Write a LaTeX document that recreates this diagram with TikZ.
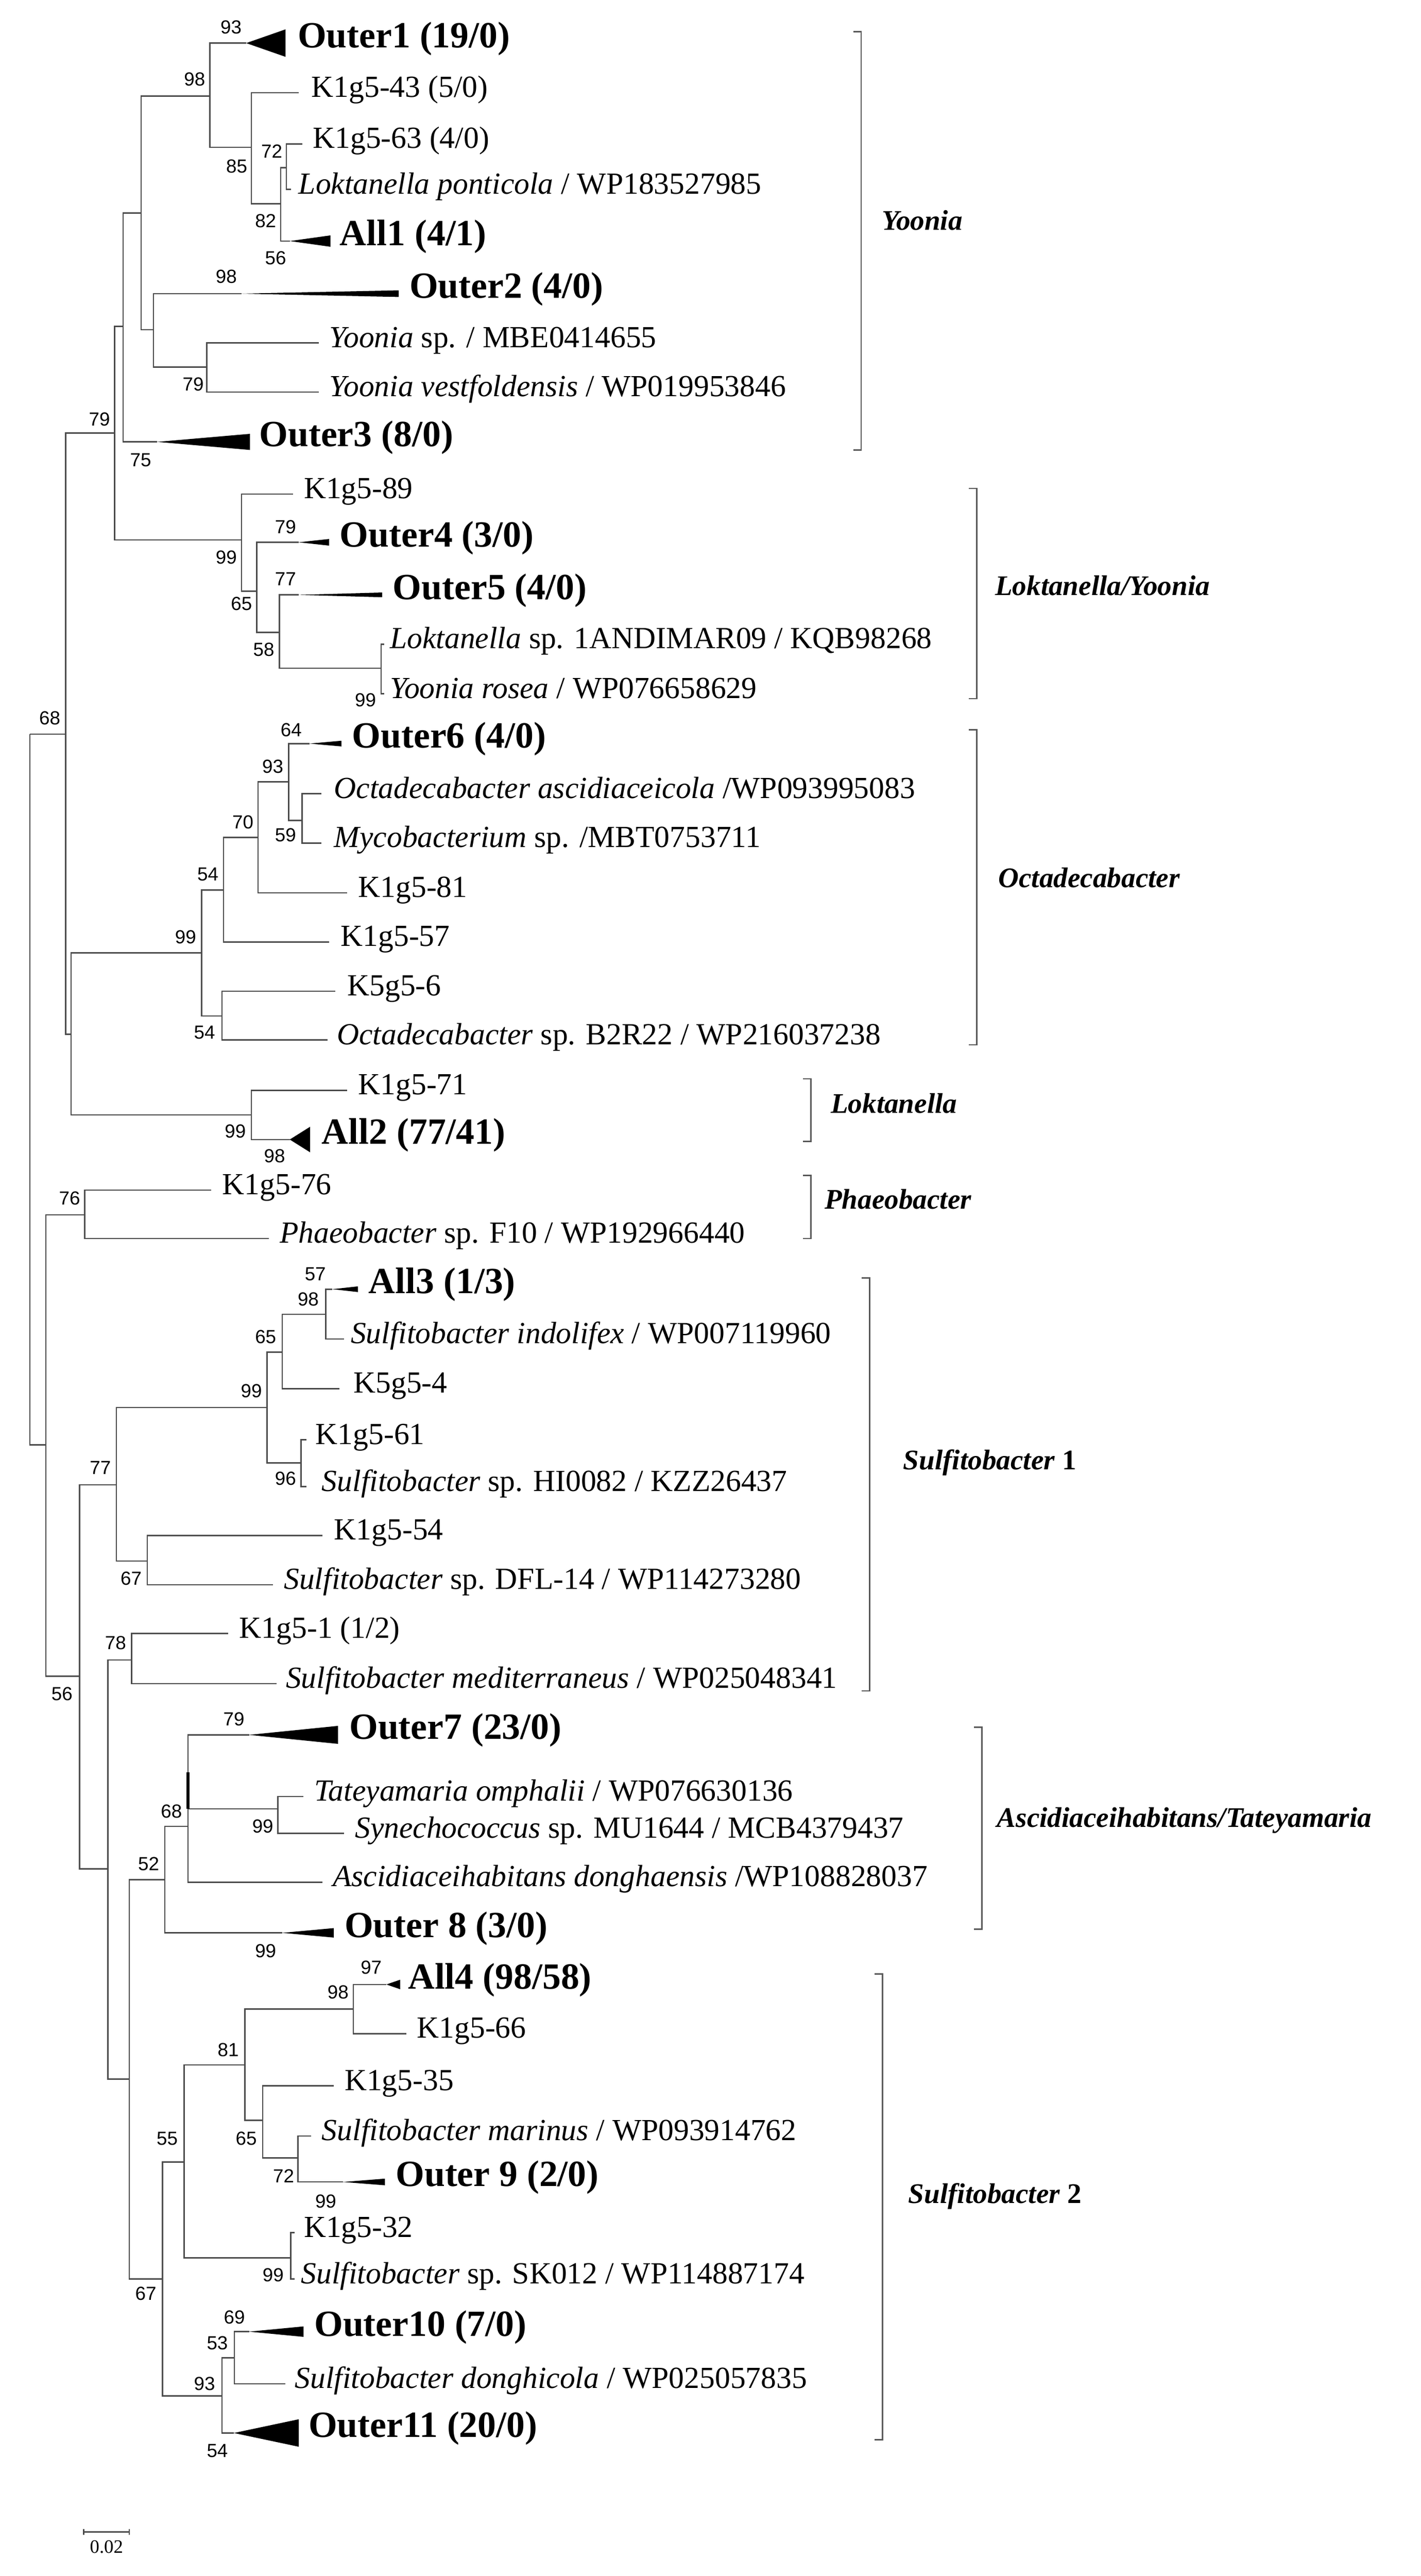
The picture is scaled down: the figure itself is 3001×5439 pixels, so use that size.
\documentclass[tikz,border=0pt]{standalone}
\usepackage{fontspec}
\setmainfont{Liberation Serif}
\newfontfamily\bsfamily{Liberation Sans}
\newcommand\ed[2]{\draw[edge] (#1) |- (#2);}
\newcommand\tri[5]{\coordinate (#1) at (#2,#4); \fill[tri] (#1) -- (#3,#4-#5) -- (#3,#4+#5) -- cycle;}
\newcommand\brk[5]{\coordinate (#1t) at (#2,#3); \coordinate (#1b) at (#2,#4);
  \draw[brack] ([xshift=-4.2pt]#1t) -- (#1t) -- (#1b) -- ([xshift=-4.2pt]#1b);}
\begin{document}
\begin{tikzpicture}[x=0.25pt,y=-0.25pt,
  edge/.style={draw=black!70,line width=0.7pt},
  tri/.style={fill=black},
  brack/.style={draw=black!65,line width=0.7pt},
  leaf/.style={anchor=mid west,inner sep=0pt,font=\fontsize{16.2}{19}\selectfont},
  bold/.style={anchor=mid west,inner sep=0pt,font=\fontsize{19.5}{22}\selectfont\bfseries},
  bs/.style={inner sep=0pt,font=\fontsize{10}{12}\bsfamily},
  cl/.style={anchor=mid west,inner sep=0pt,font=\fontsize{15}{18}\selectfont\bfseries\itshape}]
\useasboundingbox (0,0) rectangle (3001,5439);
% internal nodes
\coordinate (R0) at (63,1550);
\coordinate (B) at (139,1550);
\coordinate (A) at (242,914);
\coordinate (Y) at (260,689);
\coordinate (Y1) at (298,450);
\coordinate (Y1a) at (443,203);
\coordinate (Y1b) at (531,311);
\coordinate (Y1c) at (593,430);
\coordinate (Y1d) at (605,354);
\coordinate (Y2) at (324,696);
\coordinate (Y2b) at (437,775);
\coordinate (LY) at (510,1140);
\coordinate (LY2) at (542,1248);
\coordinate (LY4) at (590,1335);
\coordinate (LY5) at (805,1411);
\coordinate (D) at (150,2184);
\coordinate (O) at (426,2012);
\coordinate (O1) at (472,1879);
\coordinate (O3) at (545,1768);
\coordinate (O4) at (610,1651);
\coordinate (O5) at (638,1732);
\coordinate (O2) at (469,2145);
\coordinate (L) at (531,2354);
\coordinate (R1) at (97,3051);
\coordinate (Ph) at (179,2565);
\coordinate (R2) at (168,3539);
\coordinate (S1) at (246,3135);
\coordinate (S1a) at (564,2972);
\coordinate (S1b) at (596,2855);
\coordinate (S1c) at (688,2775);
\coordinate (S1d) at (636,3089);
\coordinate (S1e) at (311,3296);
\coordinate (R3) at (228,3946);
\coordinate (S2) at (278,3505);
\coordinate (N52) at (273,4390);
\coordinate (N52b) at (348,3969);
\coordinate (N68) at (397,3856);
\coordinate (TS) at (587,3819);
\coordinate (N67) at (343,4812);
\coordinate (N55) at (389,4565);
\coordinate (N81) at (517,4360);
\coordinate (N98) at (746,4242);
\coordinate (N65) at (555,4477);
\coordinate (N72) at (629,4556);
\coordinate (N99) at (614,4767);
\coordinate (N93) at (469,5059);
\coordinate (N53) at (495,4978);
% leaves (line ends)
\coordinate (l43) at (631,196);
\coordinate (l63) at (638,304);
\coordinate (lpon) at (615,400);
\coordinate (lysp) at (673,724);
\coordinate (lyve) at (673,828);
\coordinate (l89) at (619,1043);
\coordinate (llsp) at (812,1360);
\coordinate (lyro) at (812,1465);
\coordinate (loca) at (679,1676);
\coordinate (lmyc) at (679,1780);
\coordinate (l81) at (733,1885);
\coordinate (l57) at (695,1989);
\coordinate (l56) at (708,2093);
\coordinate (lb2r) at (692,2196);
\coordinate (l71) at (733,2302);
\coordinate (l76) at (446,2513);
\coordinate (lpha) at (568,2615);
\coordinate (lind) at (727,2827);
\coordinate (l54b) at (717,2932);
\coordinate (l61) at (647,3040);
\coordinate (lhi) at (647,3139);
\coordinate (l54) at (681,3242);
\coordinate (ldfl) at (577,3346);
\coordinate (l1) at (482,3449);
\coordinate (lmed) at (584,3555);
\coordinate (ltat) at (641,3793);
\coordinate (lsyn) at (727,3871);
\coordinate (lasc) at (681,3974);
\coordinate (l66) at (858,4294);
\coordinate (l35) at (705,4404);
\coordinate (lmar) at (657,4510);
\coordinate (l32) at (622,4714);
\coordinate (lsk) at (622,4812);
\coordinate (ldon) at (603,5033);
% collapsed clades
\tri{o1}{520}{603}{91}{29}
\tri{a1}{612}{698}{509}{12}
\tri{o2}{510}{842}{620}{7}
\tri{o3}{332}{528}{933}{17}
\tri{o4}{631}{695}{1145}{7}
\tri{o5}{631}{807}{1256}{5}
\tri{o6}{654}{721}{1570}{6}
\tri{a2}{612}{655}{2406}{27}
\tri{a3}{702}{756}{2722}{6}
\tri{o7}{526}{714}{3663}{19}
\tri{o8}{596}{705}{4081}{10}
\tri{a4}{816}{845}{4190}{10}
\tri{o9}{724}{813}{4607}{7}
\tri{o10}{526}{641}{4923}{11}
\tri{o11}{494}{631}{5137}{29}
% edges
\ed{R0}{B}\ed{R0}{R1}
\ed{B}{A}\ed{B}{D}
\ed{A}{Y}\ed{A}{LY}
\ed{Y}{Y1}\ed{Y}{o3}
\ed{Y1}{Y1a}\ed{Y1}{Y2}
\ed{Y1a}{o1}\ed{Y1a}{Y1b}
\ed{Y1b}{l43}\ed{Y1b}{Y1c}
\ed{Y1c}{Y1d}\ed{Y1c}{a1}
\ed{Y1d}{l63}\ed{Y1d}{lpon}
\ed{Y2}{o2}\ed{Y2}{Y2b}
\ed{Y2b}{lysp}\ed{Y2b}{lyve}
\ed{LY}{l89}\ed{LY}{LY2}
\ed{LY2}{o4}\ed{LY2}{LY4}
\ed{LY4}{o5}\ed{LY4}{LY5}
\ed{LY5}{llsp}\ed{LY5}{lyro}
\ed{D}{O}\ed{D}{L}
\ed{O}{O1}\ed{O}{O2}
\ed{O1}{O3}\ed{O1}{l57}
\ed{O3}{O4}\ed{O3}{l81}
\ed{O4}{o6}\ed{O4}{O5}
\ed{O5}{loca}\ed{O5}{lmyc}
\ed{O2}{l56}\ed{O2}{lb2r}
\ed{L}{l71}\ed{L}{a2}
\ed{R1}{Ph}\ed{R1}{R2}
\ed{Ph}{l76}\ed{Ph}{lpha}
\ed{R2}{S1}\ed{R2}{R3}
\ed{S1}{S1a}\ed{S1}{S1e}
\ed{S1a}{S1b}\ed{S1a}{S1d}
\ed{S1b}{S1c}\ed{S1b}{l54b}
\ed{S1c}{a3}\ed{S1c}{lind}
\ed{S1d}{l61}\ed{S1d}{lhi}
\ed{S1e}{l54}\ed{S1e}{ldfl}
\ed{R3}{S2}\ed{R3}{N52}
\ed{S2}{l1}\ed{S2}{lmed}
\ed{N52}{N52b}\ed{N52}{N67}
\ed{N52b}{N68}\ed{N52b}{o8}
\ed{N68}{o7}\ed{N68}{TS}\ed{N68}{lasc}
\ed{TS}{ltat}\ed{TS}{lsyn}
\ed{N67}{N55}\ed{N67}{N93}
\ed{N55}{N81}\ed{N55}{N99}
\ed{N81}{N98}\ed{N81}{N65}
\ed{N98}{a4}\ed{N98}{l66}
\ed{N65}{l35}\ed{N65}{N72}
\ed{N72}{lmar}\ed{N72}{o9}
\ed{N99}{l32}\ed{N99}{lsk}
\ed{N93}{N53}\ed{N93}{o11}
\ed{N53}{o10}\ed{N53}{ldon}
\coordinate (thk1) at (397,3742);
\coordinate (thk2) at (397,3819);
\draw[line width=1.8pt] (thk1) -- (thk2);
% labels
\node[bold] (t1) at (628,91) {Outer1 (19/0)};
\node[leaf] (t2) at (657,196) {K1g5-43 (5/0)};
\node[leaf] (t3) at (660,304) {K1g5-63 (4/0)};
\node[leaf] (t4) at (630,400) {\textit{Loktanella ponticola} / WP183527985};
\node[bold] (t5) at (717,509) {All1 (4/1)};
\node[bold] (t6) at (864,620) {Outer2 (4/0)};
\node[leaf] (t7) at (695,724) {\textit{Yoonia} sp. / MBE0414655};
\node[leaf] (t8) at (695,828) {\textit{Yoonia vestfoldensis} / WP019953846};
\node[bold] (t9) at (547,933) {Outer3 (8/0)};
\node[leaf] (t10) at (641,1043) {K1g5-89};
\node[bold] (t11) at (717,1145) {Outer4 (3/0)};
\node[bold] (t12) at (829,1256) {Outer5 (4/0)};
\node[leaf] (t13) at (823,1360) {\textit{Loktanella} sp. 1ANDIMAR09 / KQB98268};
\node[leaf] (t14) at (823,1465) {\textit{Yoonia rosea} / WP076658629};
\node[bold] (t15) at (743,1570) {Outer6 (4/0)};
\node[leaf] (t16) at (705,1676) {\textit{Octadecabacter ascidiaceicola} /WP093995083};
\node[leaf] (t17) at (705,1780) {\textit{Mycobacterium} sp. /MBT0753711};
\node[leaf] (t18) at (756,1885) {K1g5-81};
\node[leaf] (t19) at (719,1989) {K1g5-57};
\node[leaf] (t20) at (733,2093) {K5g5-6};
\node[leaf] (t21) at (711,2196) {\textit{Octadecabacter} sp. B2R22 / WP216037238};
\node[leaf] (t22) at (756,2302) {K1g5-71};
\node[bold] (t23) at (679,2406) {All2 (77/41)};
\node[leaf] (t24) at (469,2513) {K1g5-76};
\node[leaf] (t25) at (590,2615) {\textit{Phaeobacter} sp. F10 / WP192966440};
\node[bold] (t26) at (778,2722) {All3 (1/3)};
\node[leaf] (t27) at (740,2827) {\textit{Sulfitobacter indolifex} / WP007119960};
\node[leaf] (t28) at (746,2932) {K5g5-4};
\node[leaf] (t29) at (666,3040) {K1g5-61};
\node[leaf] (t30) at (679,3139) {\textit{Sulfitobacter} sp. HI0082 / KZZ26437};
\node[leaf] (t31) at (705,3242) {K1g5-54};
\node[leaf] (t32) at (599,3346) {\textit{Sulfitobacter} sp. DFL-14 / WP114273280};
\node[leaf] (t33) at (504,3449) {K1g5-1 (1/2)};
\node[leaf] (t34) at (603,3555) {\textit{Sulfitobacter mediterraneus} / WP025048341};
\node[bold] (t35) at (737,3663) {Outer7 (23/0)};
\node[leaf] (t36) at (663,3793) {\textit{Tateyamaria omphalii} / WP076630136};
\node[leaf] (t37) at (749,3871) {\textit{Synechococcus} sp. MU1644 / MCB4379437};
\node[leaf] (t38) at (702,3974) {\textit{Ascidiaceihabitans donghaensis} /WP108828037};
\node[bold] (t39) at (727,4081) {Outer 8 (3/0)};
\node[bold] (t40) at (861,4190) {All4 (98/58)};
\node[leaf] (t41) at (880,4294) {K1g5-66};
\node[leaf] (t42) at (727,4404) {K1g5-35};
\node[leaf] (t43) at (679,4510) {\textit{Sulfitobacter marinus} / WP093914762};
\node[bold] (t44) at (835,4607) {Outer 9 (2/0)};
\node[leaf] (t45) at (641,4714) {K1g5-32};
\node[leaf] (t46) at (635,4812) {\textit{Sulfitobacter} sp. SK012 / WP114887174};
\node[bold] (t47) at (663,4923) {Outer10 (7/0)};
\node[leaf] (t48) at (622,5033) {\textit{Sulfitobacter donghicola} / WP025057835};
\node[bold] (t49) at (651,5137) {Outer11 (20/0)};
% bootstrap values
\node[bs] (b1) at (488,57) {93};
\node[bs] (b2) at (411,167) {98};
\node[bs] (b3) at (500,351) {85};
\node[bs] (b4) at (574,319) {72};
\node[bs] (b5) at (561,466) {82};
\node[bs] (b6) at (582,545) {56};
\node[bs] (b7) at (478,584) {98};
\node[bs] (b8) at (408,811) {79};
\node[bs] (b9) at (210,885) {79};
\node[bs] (b10) at (297,971) {75};
\node[bs] (b11) at (478,1177) {99};
\node[bs] (b12) at (603,1113) {79};
\node[bs] (b13) at (510,1275) {65};
\node[bs] (b14) at (603,1223) {77};
\node[bs] (b15) at (557,1371) {58};
\node[bs] (b16) at (772,1478) {99};
\node[bs] (b17) at (105,1516) {68};
\node[bs] (b18) at (615,1541) {64};
\node[bs] (b19) at (576,1618) {93};
\node[bs] (b20) at (513,1736) {70};
\node[bs] (b21) at (603,1763) {59};
\node[bs] (b22) at (439,1846) {54};
\node[bs] (b23) at (392,1978) {99};
\node[bs] (b24) at (432,2180) {54};
\node[bs] (b25) at (497,2389) {99};
\node[bs] (b26) at (580,2441) {98};
\node[bs] (b27) at (147,2530) {76};
\node[bs] (b28) at (666,2690) {57};
\node[bs] (b29) at (651,2743) {98};
\node[bs] (b30) at (561,2823) {65};
\node[bs] (b31) at (531,2937) {99};
\node[bs] (b32) at (212,3099) {77};
\node[bs] (b33) at (603,3122) {96};
\node[bs] (b34) at (277,3333) {67};
\node[bs] (b35) at (244,3469) {78};
\node[bs] (b36) at (131,3576) {56};
\node[bs] (b37) at (494,3630) {79};
\node[bs] (b38) at (362,3824) {68};
\node[bs] (b39) at (555,3856) {99};
\node[bs] (b40) at (314,3935) {52};
\node[bs] (b41) at (561,4119) {99};
\node[bs] (b42) at (784,4154) {97};
\node[bs] (b43) at (714,4206) {98};
\node[bs] (b44) at (482,4328) {81};
\node[bs] (b45) at (353,4515) {55};
\node[bs] (b46) at (520,4515) {65};
\node[bs] (b47) at (599,4594) {72};
\node[bs] (b48) at (688,4648) {99};
\node[bs] (b49) at (577,4803) {99};
\node[bs] (b50) at (308,4843) {67};
\node[bs] (b51) at (495,4893) {69};
\node[bs] (b52) at (459,4947) {53};
\node[bs] (b53) at (432,5033) {93};
\node[bs] (b54) at (459,5175) {54};
% brackets
\brk{k1}{1819}{67}{950}{}
\node[cl] (c1) at (1862,476) {Yoonia};
\brk{k2}{2063}{1031}{1475}{}
\node[cl] (c2) at (2101,1248) {Loktanella/Yoonia};
\brk{k3}{2063}{1541}{2206}{}
\node[cl] (c3) at (2108,1865) {Octadecabacter};
\brk{k4}{1713}{2278}{2410}{}
\node[cl] (c4) at (1754,2341) {Loktanella};
\brk{k5}{1713}{2482}{2615}{}
\node[cl] (c5) at (1741,2543) {Phaeobacter};
\brk{k6}{1837}{2698}{3570}{}
\node[cl] (c6) at (1907,3094) {Sulfitobacter \textup{1}};
\brk{k7}{2074}{3647}{4073}{}
\node[cl] (c7) at (2105,3849) {Ascidiaceihabitans/Tateyamaria};
\brk{k8}{1864}{4168}{5151}{}
\node[cl] (c8) at (1918,4643) {Sulfitobacter \textup{2}};
% scale bar
\coordinate (sb1) at (177,5346);
\coordinate (sb2) at (273,5346);
\draw[edge] (sb1) -- (sb2);
\draw[edge] ([yshift=-1.5pt]sb1) -- ([yshift=1.5pt]sb1);
\draw[edge] ([yshift=-1.5pt]sb2) -- ([yshift=1.5pt]sb2);
\node[inner sep=0pt,font=\fontsize{10}{12}\selectfont] (sbl) at (225,5378) {0.02};
\end{tikzpicture}
\end{document}
